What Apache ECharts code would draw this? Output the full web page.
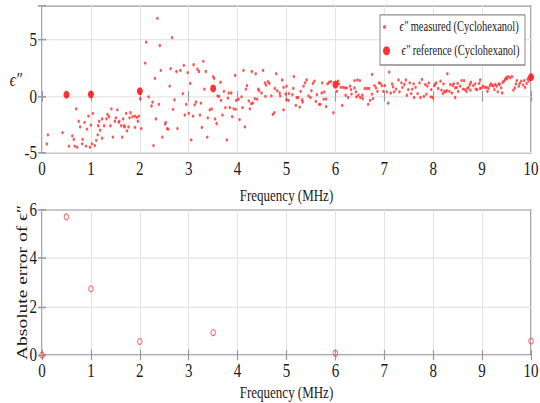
<!DOCTYPE html>
<html lang="en">
<head>
<meta charset="UTF-8">
<title>Cyclohexanol loss factor</title>
<script src="https://cdn.jsdelivr.net/npm/echarts@6/dist/echarts.min.js"></script>
<style>
html,body{margin:0;padding:0;width:540px;height:403px;overflow:hidden;background:#fff}
#wrap{position:relative;width:540px;height:403px;overflow:hidden}
/* the figure is drawn 310px tall and stretched, like the original export */
#main{position:absolute;left:0;top:0;width:540px;height:310px;transform:scaleY(1.3);transform-origin:0 0}
</style>
</head>
<body>
<div id="wrap"><div id="main"></div></div>
<script type="text/javascript">
// measured loss factor [frequency MHz, eps'']
var measured = [
  [0.10,-4.2],[0.12,-3.4],[0.42,-3.2],[0.55,-4.4],[0.62,-3.5],[0.65,-3.8],[0.67,-4.4],[0.70,-1.1],[0.72,-4.5],[0.75,-2.2],
  [0.78,-2.7],[0.82,-4.2],[0.83,-3.8],[0.87,-2.3],[0.90,-4.4],[0.92,-2.9],[0.95,-1.75],[0.98,-4.5],[1.00,-2.55],[1.02,-4.2],
  [1.04,-1.5],[1.08,-4.35],[1.11,-3.9],[1.14,-3.4],[1.15,-2.6],[1.17,-2.2],[1.19,-3.0],[1.23,-2.0],[1.23,-3.7],[1.27,-2.6],
  [1.32,-2.0],[1.34,-1.6],[1.37,-1.8],[1.40,-2.6],[1.42,-1.1],[1.45,-3.6],[1.49,-2.2],[1.51,-1.9],[1.54,-1.2],[1.57,-2.3],
  [1.58,-2.2],[1.62,-2.6],[1.64,-3.6],[1.66,-2.0],[1.68,-2.6],[1.69,-2.7],[1.72,-1.5],[1.74,-3.05],[1.77,-2.7],[1.79,-1.9],
  [1.81,-1.45],[1.85,-1.8],[1.90,-1.75],[1.90,-2.75],[1.94,-1.85],[1.96,-2.2],[1.98,-1.75],[2.01,-0.2],[2.03,-2.85],[2.11,2.95],
  [2.13,4.8],[2.18,-0.05],[2.24,-0.85],[2.26,-0.5],[2.28,-4.35],[2.31,1.6],[2.33,-2.0],[2.36,6.9],[2.39,-0.7],[2.41,4.5],
  [2.43,2.3],[2.46,-3.6],[2.52,-2.45],[2.53,-2.3],[2.56,-2.85],[2.58,-2.9],[2.61,0.9],[2.63,2.45],[2.66,5.2],[2.68,-1.15],
  [2.71,-0.3],[2.75,2.2],[2.77,-2.85],[2.83,2.3],[2.88,0.25],[2.90,2.75],[2.92,-1.65],[2.95,-0.7],[2.98,2.1],[3.00,-1.5],
  [3.03,1.15],[3.05,-3.85],[3.09,-1.75],[3.10,2.8],[3.12,-0.75],[3.15,-0.5],[3.18,2.4],[3.21,2.2],[3.23,-1.65],[3.25,-0.6],
  [3.27,-2.75],[3.30,3.1],[3.32,0.65],[3.35,2.2],[3.38,-3.6],[3.39,-1.9],[3.43,-1.2],[3.47,-1.1],[3.50,1.75],[3.52,1.6],
  [3.54,-2.0],[3.57,-2.4],[3.59,0.05],[3.62,0],[3.65,1.25],[3.66,-0.35],[3.69,-1.65],[3.72,0.45],[3.75,-1.0],[3.78,-3.85],
  [3.80,-0.15],[3.82,0.3],[3.84,-1.0],[3.87,0.3],[3.89,-1.8],[3.92,-1.1],[3.95,1.85],[3.96,-1.15],[3.97,-0.35],[4.02,-0.25],
  [4.04,-2.05],[4.08,-0.05],[4.10,-1.0],[4.12,2.3],[4.15,-2.7],[4.17,0.65],[4.19,0.95],[4.23,-0.4],[4.25,-1.1],[4.28,-0.65],
  [4.29,2.2],[4.31,-0.6],[4.35,-0.2],[4.37,2.0],[4.40,-0.25],[4.42,0.65],[4.44,0.5],[4.49,0.3],[4.52,2.3],[4.56,1.2],
  [4.57,0],[4.58,1.0],[4.62,1.3],[4.65,1.15],[4.69,0.05],[4.72,-1.6],[4.75,-1.45],[4.76,0.7],[4.79,2.0],[4.81,0.5],
  [4.86,0.3],[4.87,0.05],[4.91,1.45],[4.94,0.8],[4.94,-1.2],[4.98,0.2],[5.00,0.9],[5.00,-0.3],[5.04,-0.35],[5.05,0.25],
  [5.12,0.15],[5.14,0.7],[5.15,1.75],[5.19,-0.8],[5.21,-0.1],[5.24,-0.1],[5.27,-0.95],[5.29,0.45],[5.32,-0.3],[5.33,-0.5],
  [5.35,0.9],[5.38,1.2],[5.41,1.45],[5.45,0.05],[5.49,-0.1],[5.51,0.5],[5.54,1.15],[5.57,1.35],[5.60,-0.45],[5.62,0.15],
  [5.67,-0.7],[5.69,-0.7],[5.72,0.3],[5.73,1.2],[5.76,-0.25],[5.77,0.4],[5.81,-0.25],[5.81,-0.9],[5.84,1.1],[5.87,1.25],
  [5.91,1.3],[5.96,-1.45],[6.03,0.45],[6.05,1.35],[6.07,1.1],[6.11,0.8],[6.14,-0.8],[6.16,0.8],[6.20,0.75],[6.21,0.1],
  [6.23,0.75],[6.26,-0.1],[6.30,0.9],[6.32,0.6],[6.33,0.2],[6.39,0.75],[6.39,1.4],[6.42,0.4],[6.43,-0.05],[6.45,1.45],
  [6.47,0.1],[6.50,1.4],[6.51,-0.1],[6.55,0.1],[6.56,-0.2],[6.60,0.7],[6.65,0.7],[6.67,-0.7],[6.69,0.7],[6.71,-0.35],
  [6.75,1.95],[6.75,0.2],[6.77,-0.2],[6.80,0.95],[6.83,0.75],[6.86,0.45],[6.89,1.2],[6.92,1.15],[6.95,0.95],[6.98,0.45],
  [7.01,0.95],[7.05,0.4],[7.08,-0.6],[7.10,2.15],[7.13,0.3],[7.16,1.1],[7.18,0.85],[7.20,0.4],[7.24,0.65],[7.29,1.45],
  [7.31,0.4],[7.35,1.2],[7.37,0.8],[7.41,1.05],[7.44,1.45],[7.46,0.1],[7.49,0.6],[7.52,1.2],[7.55,0.25],[7.57,0.65],
  [7.60,1.1],[7.61,-0.1],[7.64,0.8],[7.68,0.25],[7.72,1.2],[7.74,-0.1],[7.77,1.5],[7.81,0],[7.84,1.05],[7.86,0.2],
  [7.88,0.9],[7.91,1.2],[7.95,-0.05],[7.96,0.6],[7.99,-0.1],[8.02,0.95],[8.04,1.05],[8.06,1.2],[8.10,0.7],[8.15,1.35],
  [8.17,0.55],[8.20,0.25],[8.21,1.1],[8.23,0.45],[8.25,0.4],[8.28,0.5],[8.29,2.0],[8.33,0.45],[8.35,1.05],[8.38,0.3],
  [8.40,0.95],[8.42,1.1],[8.45,0.75],[8.45,-0.1],[8.48,0.8],[8.50,1.15],[8.51,0.45],[8.55,0.9],[8.58,1.4],[8.61,0.65],
  [8.63,1.4],[8.65,0.6],[8.68,0.45],[8.70,0.7],[8.72,0.8],[8.75,1.05],[8.76,0.55],[8.77,1.25],[8.82,0.95],[8.86,1.1],
  [8.87,0.65],[8.90,0.6],[8.94,1.15],[8.96,1.45],[8.96,0.7],[8.99,0.75],[9.02,0.9],[9.06,0.8],[9.09,0.8],[9.11,0.45],
  [9.13,0.7],[9.16,0.95],[9.18,1.1],[9.21,1.0],[9.23,0.9],[9.25,0.6],[9.27,1.05],[9.30,0.9],[9.32,0.4],[9.34,1.1],
  [9.36,1.05],[9.39,0.75],[9.41,0.3],[9.42,1.25],[9.45,1.35],[9.47,1.5],[9.49,1.65],[9.51,1.55],[9.53,1.75],[9.57,1.65],
  [9.61,1.75],[9.64,0.55],[9.67,0.75],[9.69,1.1],[9.71,1.4],[9.75,0.9],[9.77,1.15],[9.80,1.35],[9.84,1.0],[9.86,1.4],
  [9.88,0.8],[9.91,1.15],[9.93,1.55],[9.95,1.35]
];
// reference values at the check frequencies
var refFreq = [0.5, 1, 2, 3.5, 6, 10];
var refEps  = [0.15, 0.18, 0.47, 0.7, 1.05, 1.7];
// absolute error of eps''
var errFreq = [0, 0.5, 1, 2, 3.5, 6, 10];
var errVal  = [0, 5.71, 2.74, 0.56, 0.93, 0.08, 0.58];

var freqTicks = [0, 10, 1];      // min, max, step
var epsTicks  = [-5, 8, 5];
var errTicks  = [0, 6, 2];

var nameMeas = 'ϵ″ measured (Cyclohexanol)';
var nameRef  = 'ϵ″ reference (Cyclohexanol)';

function pairs(xs, ys) {
  return xs.map(function (x, i) { return [x, ys[i]]; });
}

var serif = "'Liberation Serif', 'Times New Roman', serif";
var ink = '#1a1a1a';
var frame = '#555555';

function axis(grid, t, pos, main) {
  return {
    type: 'value', gridIndex: grid, position: pos,
    min: t[0], max: t[1], interval: t[2],
    nameMoveOverlap: false,
    axisLine: {show: false},
    axisTick: {show: true, inside: true, length: 4, lineStyle: {color: '#9a9a9a', width: 1.2}},
    axisLabel: {
      show: main, margin: 5, color: ink,
      fontFamily: serif, fontSize: 15, lineHeight: 14,
      formatter: function (v) { return (v % t[2] === 0) ? String(v) : ''; }
    },
    splitLine: {show: main, lineStyle: {color: '#e4e4e4', width: 1}}
  };
}

var xAxes = [axis(0, freqTicks, 'bottom', true), axis(0, freqTicks, 'top', false),
             axis(1, freqTicks, 'bottom', true), axis(1, freqTicks, 'top', false)];
xAxes[0].name = 'Frequency (MHz)'; xAxes[0].nameGap = 26;
xAxes[2].name = 'Frequency (MHz)'; xAxes[2].nameGap = 21.5;
[xAxes[0], xAxes[2]].forEach(function (a) {
  a.nameLocation = 'middle';
  a.nameTextStyle = {fontFamily: serif, fontSize: 13, lineHeight: 14, color: ink};
});

var yAxes = [axis(0, epsTicks, 'left', true), axis(0, epsTicks, 'right', false),
             axis(1, errTicks, 'left', true), axis(1, errTicks, 'right', false)];
yAxes[0].name = 'ϵ″';
yAxes[0].nameLocation = 'middle';
yAxes[0].nameRotate = 0;
yAxes[0].nameGap = 20;
yAxes[0].nameTextStyle = {fontFamily: serif, fontSize: 15, fontStyle: 'italic', color: ink};
yAxes[2].name = 'Absolute error of ϵ″';
yAxes[2].nameLocation = 'middle';
yAxes[2].nameRotate = 90;
yAxes[2].nameGap = 12;
yAxes[2].nameTextStyle = {fontFamily: serif, fontSize: 15, color: ink};

var legendText = {
  fontFamily: serif, fontSize: 10.5, color: ink,
  rich: {e: {fontFamily: serif, fontSize: 10.5, fontStyle: 'italic', color: ink}}
};
function legendFmt(name) { return '{e|ϵ″}' + name.slice(2); }

var myChart = echarts.init(document.getElementById('main'), null, {renderer: 'svg'});
var option = {
  animation: false,
  backgroundColor: '#fff',
  grid: [
    {left: 42, right: 9, top: 4.6, height: 113, show: true, borderColor: frame, borderWidth: 1,
     containLabel: false, outerBoundsMode: 'none'},
    {left: 42, right: 9, top: 161.5, height: 111.6, show: true, borderColor: frame, borderWidth: 1,
     containLabel: false, outerBoundsMode: 'none'}
  ],
  xAxis: xAxes,
  yAxis: yAxes,
  legend: [
    {data: [nameMeas], orient: 'vertical', left: 383, top: 15.2, padding: 0,
     itemWidth: 20, itemHeight: 3, formatter: legendFmt, textStyle: legendText},
    {data: [nameRef], orient: 'vertical', left: 383, top: 33.5, padding: 0,
     itemWidth: 20, itemHeight: 7, formatter: legendFmt, textStyle: legendText}
  ],
  graphic: [{
    type: 'rect', z: 3,
    shape: {x: 380, y: 11.5, width: 145, height: 38.5},
    style: {fill: '#fff', stroke: '#8c8c8c', lineWidth: 1}
  }],
  series: [
    {
      name: nameMeas, type: 'scatter', xAxisIndex: 0, yAxisIndex: 0,
      symbolSize: 2.5, itemStyle: {color: '#ff2a2a'},
      data: measured
    },
    {
      name: nameRef, type: 'scatter', xAxisIndex: 0, yAxisIndex: 0,
      symbolSize: 6, itemStyle: {color: '#ff0000'},
      data: pairs(refFreq, refEps)
    },
    {
      name: 'error', type: 'scatter', xAxisIndex: 2, yAxisIndex: 2,
      symbol: 'circle', symbolSize: 4.5,
      itemStyle: {color: 'rgba(255,255,255,0)', borderColor: '#ff4a4a', borderWidth: 1},
      data: pairs(errFreq, errVal)
    }
  ]
};
myChart.setOption(option);
</script>
</body>
</html>
